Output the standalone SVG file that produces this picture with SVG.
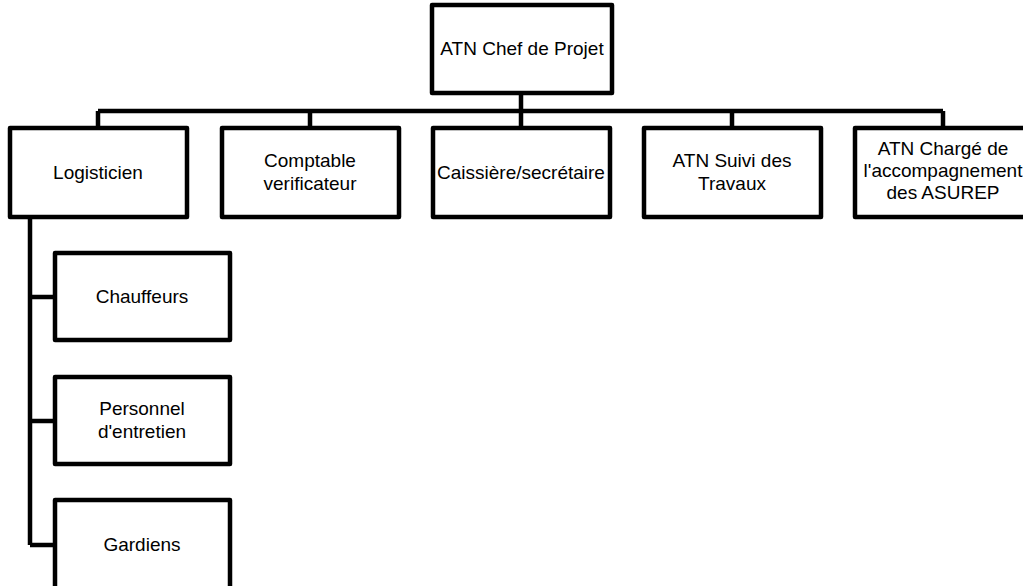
<svg xmlns="http://www.w3.org/2000/svg" width="1023" height="586" viewBox="0 0 1023 586">
<style>
.box{fill:#fff;stroke:#000;stroke-width:4.5;stroke-linejoin:round}
.conn{fill:none;stroke:#000;stroke-width:4.5;stroke-linejoin:round}
text{font-family:"Liberation Sans",Arial,sans-serif;font-size:19px;fill:#000;text-anchor:middle}
</style>
<rect width="1023" height="586" fill="#fff"/>
<g id="connectors">
<path class="conn" d="M521,93 V111 M98,111 H943 M98,111 V128 M310,111 V128 M521,111 V128 M732,111 V128 M943,111 V128"/>
<path class="conn" d="M30,217 V545 M30,297 H55 M30,421 H55 M30,545 H55"/>
</g>
<g id="chef"><rect class="box" x="432" y="5" width="180" height="88"/><text x="522" y="55">ATN Chef de Projet</text></g>
<g id="logisticien"><rect class="box" x="10" y="128" width="177" height="89"/><text x="98" y="179">Logisticien</text></g>
<g id="comptable"><rect class="box" x="222" y="128" width="177" height="89"/><text x="310" y="167">Comptable</text><text x="310" y="190">verificateur</text></g>
<g id="caissiere"><rect class="box" x="433" y="128" width="177" height="89"/><text x="521" y="179">Caissière/secrétaire</text></g>
<g id="suivi"><rect class="box" x="644" y="128" width="177" height="89"/><text x="732" y="167">ATN Suivi des</text><text x="732" y="190">Travaux</text></g>
<g id="charge"><rect class="box" x="855" y="128" width="177" height="89"/><text x="943" y="155">ATN Chargé de</text><text x="943" y="177">l'accompagnement</text><text x="943" y="199">des ASUREP</text></g>
<g id="chauffeurs"><rect class="box" x="55" y="253" width="175" height="87"/><text x="142" y="303">Chauffeurs</text></g>
<g id="personnel"><rect class="box" x="55" y="377" width="175" height="87"/><text x="142" y="415">Personnel</text><text x="142" y="438">d'entretien</text></g>
<g id="gardiens"><rect class="box" x="55" y="500" width="175" height="90"/><text x="142" y="551">Gardiens</text></g>
</svg>
